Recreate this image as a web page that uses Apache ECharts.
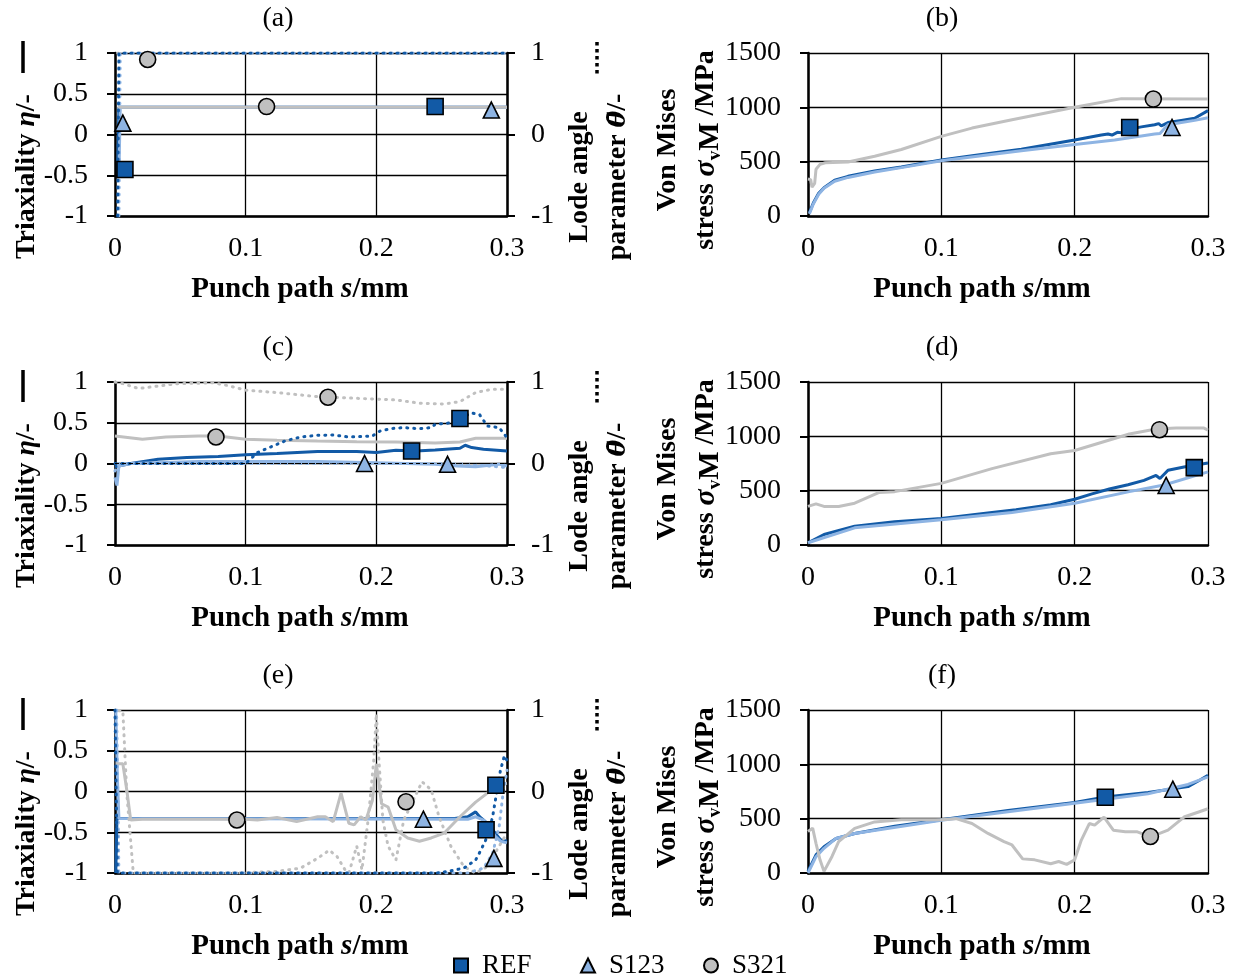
<!DOCTYPE html>
<html>
<head>
<meta charset="utf-8">
<script src="https://cdn.jsdelivr.net/npm/echarts@6/dist/echarts.min.js"></script>
<style>
html, body { margin: 0; background: #fff; }
#main { width: 1233px; height: 977px; }
</style>
</head>
<body>
<div id="main"></div>
<script>
// ---- data: [punch path s / mm, value] ----
// (a) triaxiality / lode angle
var aEtaRef = [[0.002, -0.45], [0.003, 0.333], [0.3, 0.333]];
var aEtaS123 = [[0.003, -0.5], [0.004, 0.333], [0.3, 0.333]];
var aEtaS321 = [[0.002, 0.335], [0.3, 0.335]];
var aLodeRef = [[0.002, -1], [0.003, 1], [0.3, 1]];
var aLodeS123 = [[0.003, -1], [0.004, 1], [0.3, 1]];
var aLodeS321 = [[0.002, 1], [0.3, 1]];
var aMkRef = [[0.0076, -0.43], [0.245, 0.343]];
var aMkS123 = [[0.006, 0.14], [0.288, 0.3]];
var aMkS321 = [[0.025, 0.92], [0.116, 0.343]];

// (b) von Mises stress
var bRef = [[0.001, 30], [0.004, 120], [0.008, 210], [0.012, 260], [0.02, 330], [0.03, 365], [0.05, 415], [0.07, 450], [0.1, 515], [0.13, 565], [0.16, 615], [0.2, 700], [0.22, 745], [0.225, 755], [0.228, 745], [0.232, 770], [0.236, 765], [0.24, 795], [0.25, 820], [0.26, 840], [0.263, 850], [0.265, 830], [0.27, 860], [0.28, 880], [0.29, 900], [0.3, 970]];
var bS123 = [[0.001, 20], [0.004, 110], [0.008, 200], [0.012, 255], [0.02, 320], [0.03, 355], [0.05, 405], [0.07, 445], [0.1, 508], [0.13, 555], [0.16, 600], [0.2, 658], [0.23, 700], [0.26, 755], [0.264, 760], [0.267, 800], [0.27, 840], [0.28, 860], [0.29, 880], [0.3, 905]];
var bS321 = [[0, 340], [0.002, 335], [0.003, 265], [0.005, 300], [0.006, 430], [0.009, 475], [0.013, 490], [0.03, 497], [0.05, 550], [0.07, 612], [0.1, 733], [0.123, 809], [0.153, 885], [0.2, 1000], [0.235, 1080], [0.3, 1076]];
var bMkRef = [[0.2413, 815]];
var bMkS123 = [[0.273, 815]];
var bMkS321 = [[0.259, 1076]];

// (c)
var cEtaRef = [[0, -0.04], [0.012, 0], [0.033, 0.053], [0.055, 0.073], [0.079, 0.085], [0.1, 0.106], [0.124, 0.122], [0.155, 0.146], [0.185, 0.146], [0.2, 0.134], [0.215, 0.163], [0.23, 0.154], [0.245, 0.167], [0.264, 0.187], [0.268, 0.224], [0.273, 0.195], [0.282, 0.175], [0.3, 0.154]];
var cEtaS123 = [[0, -0.17], [0.0015, -0.27], [0.003, -0.03], [0.012, 0], [0.064, 0.024], [0.1, 0.024], [0.155, 0.024], [0.2, 0.008], [0.245, -0.008], [0.262, -0.03], [0.276, -0.04], [0.294, -0.008], [0.3, -0.03]];
var cEtaS321 = [[0, 0.337], [0.021, 0.297], [0.039, 0.325], [0.064, 0.337], [0.079, 0.337], [0.1, 0.297], [0.124, 0.285], [0.155, 0.276], [0.185, 0.268], [0.215, 0.264], [0.245, 0.252], [0.264, 0.264], [0.276, 0.309], [0.3, 0.309]];
var cLodeRef = [[0, 0], [0.1, 0], [0.109, 0.134], [0.118, 0.195], [0.13, 0.276], [0.142, 0.325], [0.155, 0.346], [0.167, 0.35], [0.179, 0.325], [0.197, 0.337], [0.203, 0.4], [0.212, 0.43], [0.221, 0.44], [0.233, 0.427], [0.242, 0.44], [0.245, 0.48], [0.258, 0.5], [0.264, 0.553], [0.273, 0.62], [0.279, 0.6], [0.285, 0.46], [0.294, 0.44], [0.3, 0.317]];
var cLodeS123 = [[0, -0.09], [0.003, 0], [0.25, 0], [0.27, -0.01], [0.3, -0.05]];
var cLodeS321 = [[0, 1], [0.006, 0.98], [0.018, 0.92], [0.033, 0.95], [0.048, 0.98], [0.076, 0.99], [0.088, 0.95], [0.1, 0.9], [0.124, 0.87], [0.155, 0.82], [0.185, 0.8], [0.215, 0.78], [0.233, 0.74], [0.252, 0.73], [0.264, 0.76], [0.276, 0.87], [0.288, 0.91], [0.3, 0.91]];
var cMkRef = [[0.227, 0.154], [0.264, 0.553]];
var cMkS123 = [[0.191, 0], [0.2545, -0.01]];
var cMkS321 = [[0.0773, 0.325], [0.163, 0.813]];

// (d)
var dRef = [[0, 21], [0.012, 97], [0.035, 173], [0.065, 215], [0.1, 245], [0.138, 300], [0.156, 324], [0.182, 370], [0.2, 421], [0.213, 470], [0.226, 515], [0.24, 555], [0.252, 595], [0.261, 640], [0.264, 612], [0.27, 688], [0.282, 718], [0.3, 755]];
var dS123 = [[0, 21], [0.035, 158], [0.1, 233], [0.153, 300], [0.2, 385], [0.241, 491], [0.267, 552], [0.3, 673]];
var dS321 = [[0, 355], [0.006, 379], [0.012, 355], [0.023, 355], [0.035, 385], [0.053, 482], [0.065, 491], [0.1, 567], [0.138, 703], [0.182, 839], [0.2, 870], [0.241, 1021], [0.261, 1067], [0.276, 1076], [0.297, 1076], [0.3, 1058]];
var dMkRef = [[0.2897, 712]];
var dMkS123 = [[0.2686, 548]];
var dMkS321 = [[0.2636, 1061]];

// (e)
var eEtaRef = [[0.0006, -1], [0.0015, -0.33], [0.26, -0.33], [0.27, -0.31], [0.276, -0.25], [0.279, -0.31], [0.285, -0.39], [0.291, -0.51], [0.295, -0.59], [0.3, -0.61]];
var eEtaS123 = [[0.0006, 0.99], [0.0018, 0.18], [0.003, -0.33], [0.27, -0.34], [0.276, -0.31], [0.282, -0.35], [0.286, -0.43], [0.291, -0.55], [0.295, -0.61], [0.3, -0.63]];
var eEtaS321 = [[0.0006, 0.34], [0.006, 0.34], [0.009, 0.02], [0.012, -0.35], [0.021, -0.34], [0.1, -0.34], [0.109, -0.35], [0.124, -0.32], [0.139, -0.37], [0.155, -0.31], [0.161, -0.31], [0.167, -0.37], [0.173, -0.02], [0.179, -0.39], [0.183, -0.41], [0.188, -0.31], [0.192, -0.35], [0.197, -0.11], [0.2, 0.34], [0.204, -0.15], [0.209, -0.19], [0.215, -0.47], [0.224, -0.57], [0.233, -0.61], [0.242, -0.57], [0.252, -0.51], [0.264, -0.31], [0.276, -0.13], [0.285, -0.02], [0.291, 0.08], [0.3, 0.1]];
var eLodeRef = [[0, 1], [0.0018, -1], [0.246, -1], [0.255, -0.98], [0.267, -0.94], [0.276, -0.84], [0.28, -0.72], [0.285, -0.55], [0.289, -0.31], [0.292, -0.02], [0.295, 0.26], [0.298, 0.44], [0.3, 0.38]];
var eLodeS123 = [[0.0012, 1], [0.003, -1], [0.27, -1], [0.282, -0.94], [0.289, -0.76], [0.294, -0.43], [0.297, -0.02], [0.3, 0.26]];
var eLodeS321 = [[0.003, 0.99], [0.006, 0.99], [0.009, -0.02], [0.014, -1], [0.094, -1], [0.124, -0.98], [0.142, -0.94], [0.155, -0.82], [0.164, -0.72], [0.17, -0.8], [0.176, -0.96], [0.179, -1], [0.185, -0.67], [0.189, -0.96], [0.194, -0.31], [0.198, 0.38], [0.2, 0.95], [0.202, 0.38], [0.205, -0.35], [0.209, -0.67], [0.215, -0.84], [0.221, -0.35], [0.227, -0.15], [0.235, 0.12], [0.242, 0.02], [0.248, -0.31], [0.257, -0.67], [0.267, -0.92], [0.276, -1], [0.285, -0.92], [0.294, -0.67], [0.3, -0.51]];
var eMkRef = [[0.284, -0.47], [0.2915, 0.077]];
var eMkS123 = [[0.236, -0.34], [0.29, -0.82]];
var eMkS321 = [[0.0933, -0.35], [0.2227, -0.126]];

// (f)
var fRef = [[0, 15], [0.006, 167], [0.012, 242], [0.021, 318], [0.035, 364], [0.065, 430], [0.1, 490], [0.15, 575], [0.2, 650], [0.223, 700], [0.255, 740], [0.285, 795], [0.294, 856], [0.3, 900]];
var fS123 = [[0, 0], [0.006, 150], [0.012, 227], [0.021, 318], [0.035, 364], [0.1, 485], [0.2, 642], [0.255, 730], [0.285, 815], [0.3, 885]];
var fS321 = [[0, 382], [0.0035, 413], [0.006, 273], [0.009, 121], [0.012, 15], [0.018, 152], [0.023, 288], [0.035, 410], [0.05, 470], [0.07, 491], [0.1, 491], [0.111, 500], [0.123, 455], [0.135, 364], [0.147, 288], [0.153, 258], [0.161, 130], [0.17, 121], [0.182, 85], [0.188, 106], [0.194, 79], [0.2, 121], [0.205, 303], [0.211, 455], [0.215, 440], [0.222, 515], [0.229, 394], [0.238, 379], [0.247, 379], [0.257, 333], [0.27, 394], [0.282, 515], [0.293, 561], [0.3, 591]];
var fMkRef = [[0.223, 697]];
var fMkS123 = [[0.2736, 771]];
var fMkS321 = [[0.2568, 336]];

var panelTitles = ['(a)', '(b)', '(c)', '(d)', '(e)', '(f)'];
var legendNames = ['REF', 'S123', 'S321'];

// ---- styling ----
var F = '"Liberation Serif","Times New Roman",serif';
var cRef = '#125AA6', cS123 = '#8EB4E3', cS321 = '#C0C0C0';
var rowTop = [53, 382, 710];
var plotH = 163;

function rich(fs) {
  return {
    n: { fontFamily: F, fontSize: fs, fontWeight: 'bold', color: '#000', lineHeight: 38 },
    i: { fontFamily: F, fontSize: fs, fontWeight: 'bold', fontStyle: 'italic', color: '#000', lineHeight: 38 },
    th: { fontFamily: '"DejaVu Serif"', fontSize: fs - 3, fontWeight: 'bold', fontStyle: 'italic', color: '#000', lineHeight: 38 },
    sg: { fontFamily: F, fontSize: fs + 2, fontWeight: 'bold', fontStyle: 'italic', color: '#000', lineHeight: 38 },
    sub: { fontFamily: F, fontSize: 19, fontWeight: 'bold', color: '#000', verticalAlign: 'bottom', lineHeight: 38 },
    m: { fontFamily: F, fontSize: fs + 2, fontWeight: 'bold', color: '#000', verticalAlign: 'bottom', lineHeight: 38 }
  };
}

var grids = [], xAxes = [], yAxes = [], series = [], graphics = [];

function fmt(v) { return String(+Number(v).toFixed(1)); }

function xAx(g, shift) {
  return {
    type: 'value', gridIndex: g, min: 0, max: 0.3, interval: 0.1,
    name: '{n|Punch path }{i|s}{n|/mm}', nameLocation: 'middle', nameGap: 55,
    nameTextStyle: { rich: rich(29), padding: [0, shift * 2, 0, 0] },
    axisLine: { show: true, onZero: false, lineStyle: { color: '#000', width: 2.5 } },
    axisTick: { show: false },
    axisLabel: { color: '#000', fontFamily: F, fontSize: 28, margin: 19, formatter: fmt },
    splitLine: { show: true, lineStyle: { color: '#000', width: 1.3 } }
  };
}
function yAx(g, pos, min, max, step, split) {
  return {
    type: 'value', gridIndex: g, position: pos, min: min, max: max, interval: step,
    axisLine: { show: true, onZero: false, lineStyle: { color: '#000', width: 2.5 } },
    axisTick: { show: true, inside: false, length: 8, lineStyle: { color: '#000', width: 2 } },
    axisLabel: { color: '#000', fontFamily: F, fontSize: 28, margin: pos == 'left' ? 27 : 24, formatter: fmt },
    splitLine: { show: split, lineStyle: { color: '#000', width: 1.3 } }
  };
}
function ln(x, y, data, color, dotted) {
  return {
    type: 'line', xAxisIndex: x, yAxisIndex: y, data: data, showSymbol: false, symbol: 'none',
    silent: true, z: 2, animation: false,
    lineStyle: dotted
      ? { color: color, width: 3, type: [1, 6], cap: 'round' }
      : { color: color, width: 3 }
  };
}
function mk(x, y, name, data) {
  var st = { REF: ['rect', cRef], S123: ['triangle', cS123], S321: ['circle', cS321] }[name];
  return {
    type: 'scatter', name: name, xAxisIndex: x, yAxisIndex: y, data: data,
    symbol: st[0], symbolSize: 16, z: 5, silent: true, animation: false,
    itemStyle: { color: st[1], borderColor: '#000', borderWidth: 1.6, opacity: 1 }
  };
}
function txt(x, y, rot, text, align) {
  return { type: 'text', x: x, y: y, rotation: rot,
    style: { text: text, rich: rich(28), align: align, verticalAlign: 'middle' } };
}

var etaSets = [
  [aEtaRef, aEtaS123, aEtaS321, aLodeRef, aLodeS123, aLodeS321, aMkRef, aMkS123, aMkS321],
  [cEtaRef, cEtaS123, cEtaS321, cLodeRef, cLodeS123, cLodeS321, cMkRef, cMkS123, cMkS321],
  [eEtaRef, eEtaS123, eEtaS321, eLodeRef, eLodeS123, eLodeS321, eMkRef, eMkS123, eMkS321]
];
var vmSets = [
  [bRef, bS123, bS321, bMkRef, bMkS123, bMkS321],
  [dRef, dS123, dS321, dMkRef, dMkS123, dMkS321],
  [fRef, fS123, fS321, fMkRef, fMkS123, fMkS321]
];

for (var r = 0; r < 3; r++) {
  var rTop = rowTop[r], dy = rTop - rowTop[0];
  var gl = r * 2, gr = r * 2 + 1;
  grids.push({ left: 115, top: rTop, width: 392, height: plotH });
  grids.push({ left: 808, top: rTop, width: 400, height: plotH });
  xAxes.push(xAx(gl, 11), xAx(gr, 26));

  var yEta = yAxes.length;
  yAxes.push(yAx(gl, 'left', -1, 1, 0.5, true));
  var yLode = yAxes.length;
  yAxes.push(yAx(gl, 'right', -1, 1, 1, false));
  var yVm = yAxes.length;
  yAxes.push(yAx(gr, 'left', 0, 1500, 500, true));

  var s = etaSets[r];
  series.push(ln(gl, yEta, s[0], cRef, false));
  series.push(ln(gl, yEta, s[1], cS123, false));
  series.push(ln(gl, yEta, s[2], cS321, false));
  series.push(ln(gl, yLode, s[5], cS321, true));
  var l123 = ln(gl, yLode, s[4], cS123, true);
  if (r == 1) {
    l123.markLine = {
      silent: true, symbol: 'none', animation: false, label: { show: false },
      lineStyle: { color: '#000', type: [4, 3], width: 1 },
      data: [{ yAxis: 0 }]
    };
  }
  series.push(l123);
  series.push(ln(gl, yLode, s[3], cRef, true));
  series.push(mk(gl, yEta, 'REF', s[6]));
  series.push(mk(gl, yEta, 'S123', s[7]));
  series.push(mk(gl, yEta, 'S321', s[8]));

  var v = vmSets[r];
  series.push(ln(gr, yVm, v[0], cRef, false));
  series.push(ln(gr, yVm, v[1], cS123, false));
  series.push(ln(gr, yVm, v[2], cS321, false));
  series.push(mk(gr, yVm, 'REF', v[3]));
  series.push(mk(gr, yVm, 'S123', v[4]));
  series.push(mk(gr, yVm, 'S321', v[5]));

  // panel titles
  graphics.push({ type: 'text', x: 278, y: 19 + dy, style: { text: panelTitles[gl], font: '28px ' + F, fill: '#000', align: 'center', verticalAlign: 'middle' } });
  graphics.push({ type: 'text', x: 942, y: 19 + dy, style: { text: panelTitles[gr], font: '28px ' + F, fill: '#000', align: 'center', verticalAlign: 'middle' } });

  // left axis title + solid line key
  graphics.push(txt(27, 259 + dy, Math.PI / 2, '{n|Triaxiality }{i|η}{n|/-}', 'left'));
  graphics.push({ type: 'line', shape: { x1: 23, y1: 41 + dy, x2: 23, y2: 73 + dy }, style: { stroke: '#000', lineWidth: 3.5 } });

  // right axis title + dotted line key
  graphics.push(txt(599, 177 + dy, Math.PI / 2, '{n|Lode angle}\n{n|parameter }{th|θ̄}{n|/-}', 'center'));
  graphics.push({ type: 'line', shape: { x1: 597, y1: 42 + dy, x2: 597, y2: 74 + dy }, style: { stroke: '#000', lineWidth: 3.5, lineDash: [3.5, 3.5] } });

  // von Mises axis title
  graphics.push(txt(687, 150 + dy, Math.PI / 2, '{n|Von Mises}\n{n|stress }{sg|σ}{sub|v}{m|M}{n| /MPa}', 'center'));
}

function leg(name, left) {
  return {
    data: [name], left: left, top: 947, itemWidth: 14, itemHeight: 14, selectedMode: false,
    textStyle: { fontFamily: F, fontSize: 27, color: '#000', padding: [0, 0, 0, 9] }
  };
}

var chart = echarts.init(document.getElementById('main'));
chart.setOption({
  animation: false,
  backgroundColor: '#fff',
  grid: grids,
  xAxis: xAxes,
  yAxis: yAxes,
  legend: [leg(legendNames[0], 448), leg(legendNames[1], 575), leg(legendNames[2], 698)],
  graphic: graphics,
  series: series
});
</script>
</body>
</html>
